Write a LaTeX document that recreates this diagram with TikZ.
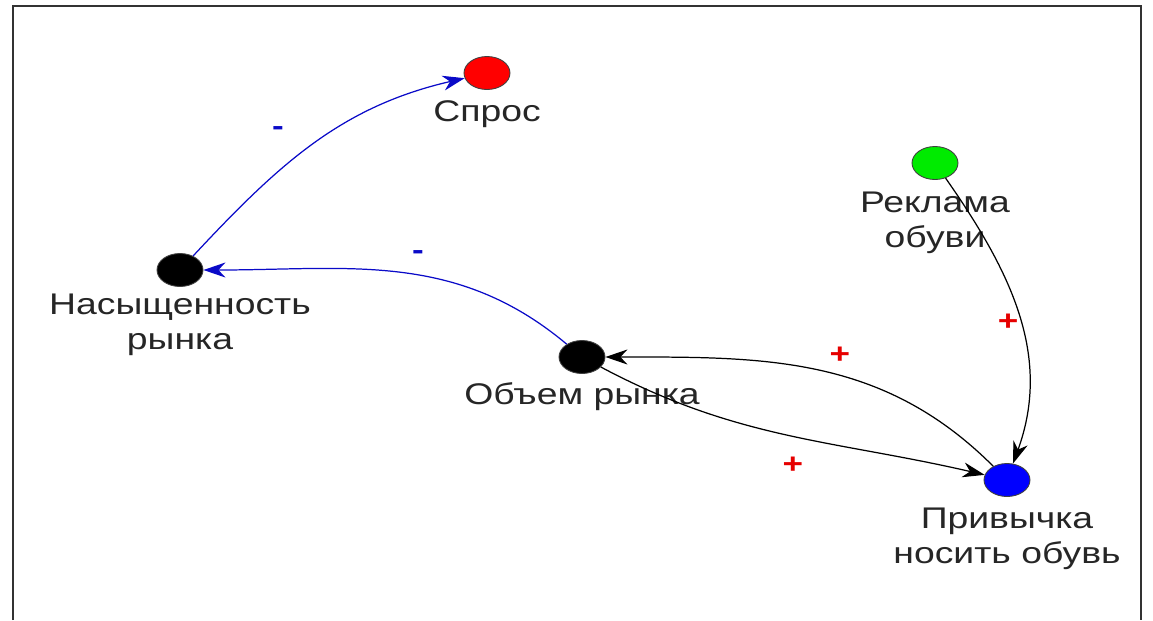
\documentclass[tikz,border=0pt]{standalone}
\usepackage{fontspec}
\setmainfont[FakeStretch=1.25]{Liberation Sans}
\usetikzlibrary{positioning,shapes.geometric,arrows.meta}
\definecolor{linkblue}{RGB}{10,10,200}
\definecolor{factorred}{RGB}{255,0,0}
\definecolor{factorgreen}{RGB}{0,235,0}
\definecolor{factorblue}{RGB}{0,0,255}
\definecolor{signred}{RGB}{230,0,0}
\tikzset{
  factor/.style={ellipse,draw=black!75,line width=0.5pt,minimum width=0.92cm,minimum height=0.66cm,inner sep=0pt},
  caption/.style={align=center,inner sep=0pt,text=black!85,font=\fontsize{17}{19.5}\selectfont},
  link/.style={-{Stealth[length=0.44cm,width=0.3cm,inset=0.14cm]},line width=0.7pt},
  sign/.style={inner sep=0pt,font=\fontsize{16}{16}\selectfont\bfseries}
}
\begin{document}
\begin{tikzpicture}[x=0.02cm,y=-0.02cm]
\useasboundingbox (0,0) rectangle (1153,620);
\draw[line width=1.1pt,black!80] (13,620) -- (13,6) -- (1141,6) -- (1141,620);
\node[factor,fill=factorred] (spros) at (487,73) {};
\node[caption,below=0.2cm of spros] (sprostext) {Спрос};
\node[factor,fill=factorgreen] (reklama) at (935,163) {};
\node[caption,below=0.24cm of reklama] (reklamatext) {Реклама\\обуви};
\node[factor,fill=black] (nasysch) at (180,270) {};
\node[caption,below=0.14cm of nasysch] (nasyschtext) {Насыщенность\\рынка};
\node[factor,fill=black] (obem) at (582,357) {};
\node[caption,below=0.16cm of obem] (obemtext) {Объем рынка};
\node[factor,fill=factorblue] (privychka) at (1007,480) {};
\node[caption,below=0.22cm of privychka] (privychkatext) {Привычка\\носить обувь};
\draw[link,linkblue] (nasysch) to[out=47,in=193] (spros);
\draw[link,linkblue] (obem) to[out=140,in=0] (nasysch);
\draw[link] (privychka) to[out=135,in=0] (obem);
\draw[link] (obem) to[out=-28,in=167] (privychka);
\draw[link] (reklama) to[out=-55,in=70] (privychka);
\node[sign,linkblue] (minus1) at (278,131) {-};
\node[sign,linkblue] (minus2) at (418,255) {-};
\node[sign,signred] (plus1) at (840,355) {+};
\node[sign,signred] (plus2) at (793,465) {+};
\node[sign,signred] (plus3) at (1008,322) {+};
\end{tikzpicture}
\end{document}
